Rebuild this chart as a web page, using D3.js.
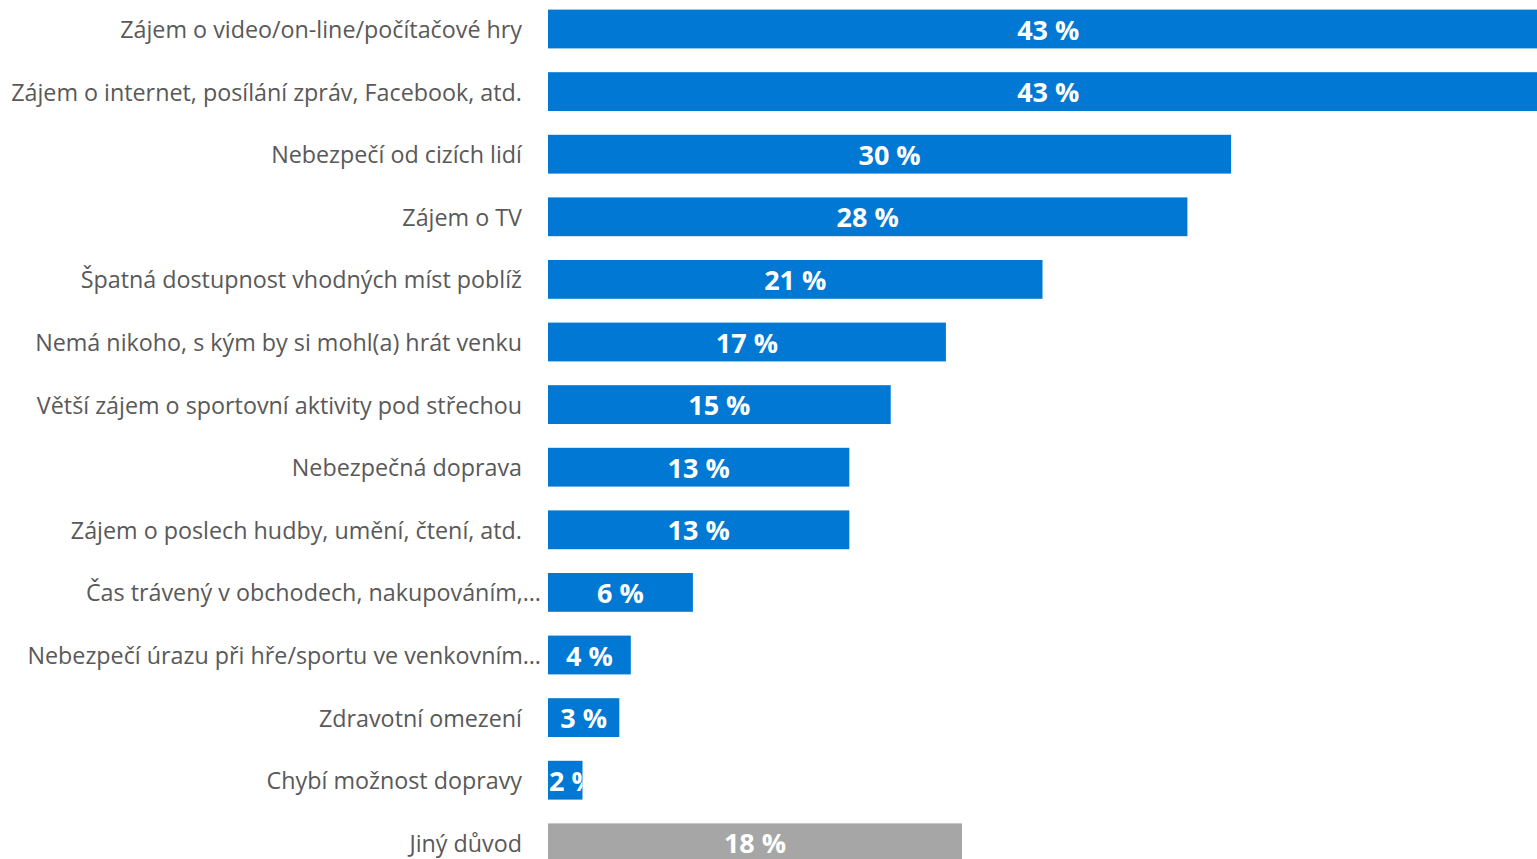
<!DOCTYPE html>
<html><head><meta charset="utf-8">
<script src="https://cdn.jsdelivr.net/npm/d3@7"></script>
<style>
html,body{margin:0;padding:0;background:#fff;overflow:hidden;}
svg{display:block;}
</style></head>
<body>
<svg id="chart" width="1537" height="859"></svg>
<script>
const categories = [
  "Zájem o video/on-line/počítačové hry",
  "Zájem o internet, posílání zpráv, Facebook, atd.",
  "Nebezpečí od cizích lidí",
  "Zájem o TV",
  "Špatná dostupnost vhodných míst poblíž",
  "Nemá nikoho, s kým by si mohl(a) hrát venku",
  "Větší zájem o sportovní aktivity pod střechou",
  "Nebezpečná doprava",
  "Zájem o poslech hudby, umění, čtení, atd.",
  "Čas trávený v obchodech, nakupováním,…",
  "Nebezpečí úrazu při hře/sportu ve venkovním…",
  "Zdravotní omezení",
  "Chybí možnost dopravy",
  "Jiný důvod"
];
const values = [43.5, 43.5, 29.7, 27.8, 21.5, 17.3, 14.9, 13.1, 13.1, 6.3, 3.6, 3.1, 1.5, 18.0];
const valueLabels = ["43 %","43 %","30 %","28 %","21 %","17 %","15 %","13 %","13 %","6 %","4 %","3 %","2 %","18 %"];
const isOther = [false,false,false,false,false,false,false,false,false,false,false,false,false,true];

const svg = d3.select("#chart");
const x0 = 548;
const x = d3.scaleLinear().domain([0, 10]).range([x0, x0 + 230]);
const y = d3.scaleBand().domain(categories).range([-2.3, 874.1]).paddingInner(0.38).paddingOuter(0.19);

const font = "'Open Sans', sans-serif";

const defs = svg.append("defs");
defs.selectAll("clipPath").data(categories).enter().append("clipPath")
  .attr("id", (d,i) => "clip" + i)
  .append("rect")
  .attr("x", x(0))
  .attr("y", d => y(d) - 10)
  .attr("width", (d,i) => x(values[i]) - x(0))
  .attr("height", y.bandwidth() + 20);

const g = svg.append("g");
g.selectAll("rect.bar").data(categories).enter().append("rect")
  .attr("class","bar")
  .attr("x", x(0))
  .attr("y", d => y(d))
  .attr("width", (d,i) => x(values[i]) - x(0))
  .attr("height", y.bandwidth())
  .attr("fill", (d,i) => isOther[i] ? "#A6A6A6" : "#0078D4");

g.selectAll("text.val").data(categories).enter().append("text")
  .attr("class","val")
  .attr("clip-path", (d,i) => "url(#clip" + i + ")")
  .attr("y", d => y(d) + y.bandwidth()/2)
  .attr("text-anchor","middle")
  .attr("dominant-baseline","central")
  .attr("font-family", font)
  .attr("font-weight","bold")
  .attr("font-size", 27)
  .attr("fill","#fff")
  .text((d,i) => valueLabels[i])
  .attr("x", function(d,i) {
    const c = (x(0) + x(values[i]))/2;
    const w = this.getComputedTextLength();
    return Math.max(c, x(0) + w/2 + 1);
  });

g.selectAll("text.cat").data(categories).enter().append("text")
  .attr("class","cat")
  .attr("x", d => d.endsWith("…") ? 541 : 522)
  .attr("y", d => y(d) + y.bandwidth()/2)
  .attr("text-anchor","end")
  .attr("dominant-baseline","central")
  .attr("font-family", font)
  .attr("font-size", 23.3)
  .attr("fill","#595959")
  .text(d => d);
</script>
</body></html>
